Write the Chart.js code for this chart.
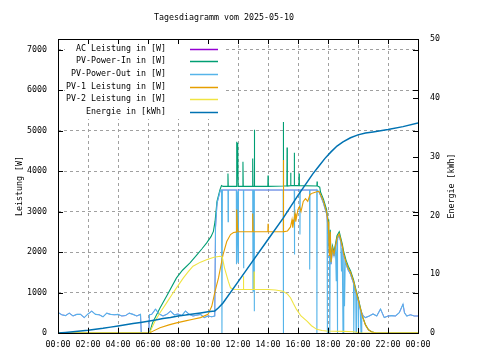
<!DOCTYPE html>
<html>
<head>
<meta charset="utf-8">
<script src="https://cdn.jsdelivr.net/npm/chart.js@4.4.1/dist/chart.umd.min.js"></script>
<style>
html, body { margin: 0; padding: 0; background: #fff; }
#wrap { width: 480px; height: 360px; }
</style>
</head>
<body>
<div id="wrap"><canvas id="tagesChart" width="480" height="360"></canvas></div>
<script>
// Werte: [Stunde, Wert]
const chartTitle = 'Tagesdiagramm vom 2025-05-10';
const seriesLabels = ['AC Leistung in [W]', 'PV-Power-In in [W]', 'PV-Power-Out in [W]',
    'PV-1 Leistung in [W]', 'PV-2 Leistung in [W]', 'Energie in [kWh]'];
const seriesColors = ['#9400d3', '#009e73', '#56b4e9', '#e69f00', '#f0e442', '#0072b2'];

const hourTicks = [0, 2, 4, 6, 8, 10, 12, 14, 16, 18, 20, 22, 24];
const wattTicks = [0, 1000, 2000, 3000, 4000, 5000, 6000, 7000];
const kwhTicks = [0, 10, 20, 30, 40, 50];

// AC-Leistung: liegt im Bild fast ueberall unter PV-Power-Out
const acPower = [
    [0, 510], [0.25, 450], [0.5, 430], [0.75, 490], [1, 420], [1.25, 460], [1.5, 460], [1.75, 380],
    [2, 470], [2.25, 540], [2.5, 460], [2.75, 450], [3, 400], [3.25, 490], [3.5, 460], [3.75, 450],
    [4, 460], [4.25, 420], [4.5, 430], [4.75, 490], [5, 460], [5.25, 420], [5.5, 460],
    [5.55, 0], [6.05, 0], [6.1, 450], [6.25, 460], [6.5, 590], [6.75, 470], [7, 420], [7.25, 460],
    [7.5, 540], [7.75, 450], [8, 470], [8.25, 430], [8.5, 540], [8.75, 460], [9, 420], [9.25, 440],
    [9.5, 460], [9.75, 380], [10, 420], [10.25, 400], [10.45, 420],
    [10.5, 2600], [10.6, 3200], [10.8, 3500], [10.9, 3530], [17.25, 3530],
    [17.4, 3480], [17.5, 3400], [17.7, 3200], [17.9, 2950], [17.97, 2700], [18.05, 2400], [18.1, 1900],
    [18.15, 2450], [18.2, 1700], [18.3, 2050], [18.4, 1900], [18.5, 2100], [18.6, 2300], [18.65, 2350],
    [18.75, 2400], [18.85, 2250], [18.95, 2100], [19.05, 1900], [19.15, 1800], [19.2, 1700], [19.35, 1550],
    [19.5, 1450], [19.7, 1230], [19.75, 1200], [19.85, 1000], [19.9, 950], [20.0, 800], [20.05, 780],
    [20.15, 580], [20.25, 500], [20.35, 420],
    [20.5, 380], [20.75, 420], [21, 470], [21.25, 420], [21.5, 590], [21.75, 380], [22, 420], [22.25, 430],
    [22.5, 420], [22.75, 500], [23, 710], [23.1, 500], [23.25, 420], [23.5, 450], [23.75, 420], [24, 420]
];

const pvIn = [
    [0, 0], [6.1, 0], [6.3, 250], [6.8, 615], [7.3, 950], [7.9, 1360], [8.3, 1550], [8.8, 1730],
    [9.3, 1950], [9.6, 2080], [9.9, 2220], [10.2, 2380], [10.36, 2510], [10.47, 2755], [10.6, 3250],
    [10.8, 3540], [10.9, 3640], [11.0, 3620],
    [11.32, 3620], [11.33, 3940], [11.35, 3620],
    [11.89, 3620], [11.9, 4720], [11.93, 3650], [11.98, 4700], [12.01, 3620],
    [12.32, 3620], [12.33, 4230], [12.35, 3620],
    [12.97, 3620], [12.98, 4310], [13.0, 3620], [13.08, 3620], [13.09, 5020], [13.11, 3620],
    [13.99, 3620], [14.0, 3890], [14.02, 3620],
    [15.01, 3630], [15.02, 5210], [15.04, 3630],
    [15.26, 3630], [15.27, 4580], [15.29, 3630],
    [15.5, 3640], [15.51, 3960], [15.53, 3640],
    [15.74, 3640], [15.75, 4450], [15.77, 3640],
    [16.06, 3640], [16.07, 3940], [16.09, 3640],
    [17.26, 3630], [17.27, 3740], [17.29, 3630],
    [17.45, 3600], [17.5, 3480], [17.7, 3300], [17.9, 3050], [18.0, 2800], [18.05, 2450], [18.1, 1950],
    [18.15, 2550], [18.2, 1800], [18.3, 2150], [18.4, 2000], [18.5, 2200], [18.6, 2400], [18.75, 2500],
    [18.85, 2350], [18.95, 2200], [19.05, 2000], [19.2, 1800], [19.35, 1650], [19.5, 1540], [19.7, 1320],
    [19.85, 1090], [20.0, 880], [20.15, 640], [20.3, 410], [20.5, 200], [20.7, 80], [20.9, 30],
    [21.2, 0], [24, 0]
];

const pvOut = [
    [0, 510], [0.25, 450], [0.5, 430], [0.75, 490], [1, 420], [1.25, 460], [1.5, 460], [1.75, 380],
    [2, 470], [2.25, 540], [2.5, 460], [2.75, 450], [3, 400], [3.25, 490], [3.5, 460], [3.75, 450],
    [4, 460], [4.25, 420], [4.5, 430], [4.75, 490], [5, 460], [5.25, 420], [5.5, 460],
    [5.55, 0], [6.05, 0], [6.1, 450], [6.25, 460], [6.5, 590], [6.75, 470], [7, 420], [7.25, 460],
    [7.5, 540], [7.75, 450], [8, 470], [8.25, 430], [8.5, 540], [8.75, 460], [9, 420], [9.25, 440],
    [9.5, 460], [9.75, 380], [10, 420], [10.25, 400], [10.45, 420],
    [10.5, 2600], [10.6, 3200], [10.8, 3500], [10.9, 3530], [10.93, 0], [10.96, 3530],
    [11.33, 3530], [11.34, 2750], [11.36, 3530],
    [11.89, 3530], [11.9, 1700], [11.95, 3500], [12.0, 1750], [12.03, 3530],
    [12.36, 3530], [12.37, 1600], [12.39, 3530],
    [12.98, 3530], [13.0, 1030], [13.02, 3530],
    [13.07, 3530], [13.08, 540], [13.1, 3530],
    [15.01, 3530], [15.02, 0], [15.04, 3530],
    [15.75, 3530], [15.76, 1940], [15.78, 3530],
    [16.12, 3530], [16.13, 2430], [16.15, 3530],
    [16.77, 3530], [16.78, 1570], [16.8, 3530],
    [17.25, 3530], [17.26, 0], [17.28, 3530],
    [17.4, 3480], [17.5, 3400], [17.7, 3200], [17.9, 2950], [17.94, 2900], [17.95, 0], [17.97, 2700],
    [18.05, 2400], [18.1, 1900], [18.12, 0], [18.15, 2450], [18.2, 1700], [18.3, 2050], [18.4, 1900],
    [18.5, 2100], [18.55, 1280], [18.6, 2300], [18.62, 0], [18.65, 2350], [18.75, 2400], [18.85, 2250],
    [18.9, 1520], [18.95, 2100], [19.0, 0], [19.05, 1900], [19.1, 660], [19.15, 1800], [19.2, 1700],
    [19.35, 1550], [19.5, 1450], [19.7, 1230], [19.72, 0], [19.75, 1200], [19.85, 1000], [19.87, 0],
    [19.9, 950], [20.0, 800], [20.02, 0], [20.05, 780], [20.15, 580], [20.2, 0], [20.25, 500], [20.35, 420],
    [20.5, 380], [20.75, 420], [21, 470], [21.25, 420], [21.5, 590], [21.75, 380], [22, 420], [22.25, 430],
    [22.5, 420], [22.75, 500], [23, 710], [23.1, 500], [23.25, 420], [23.5, 450], [23.75, 420], [24, 420]
];

const pv1 = [
    [0, 0], [6.1, 0], [6.3, 40], [6.8, 130], [7.4, 200], [7.9, 250], [8.5, 300], [9.0, 340], [9.5, 380],
    [10.0, 460], [10.25, 660], [10.47, 1030], [10.7, 1360], [11.0, 1930], [11.25, 2260], [11.5, 2430],
    [11.7, 2480], [11.87, 2490], [11.89, 2950], [11.93, 3050], [11.97, 2600], [12.0, 2500],
    [12.96, 2500], [12.98, 2950], [13.01, 2500], [13.99, 2500], [14.0, 2700], [14.02, 2500],
    [15.0, 2500], [15.02, 4270], [15.05, 2500], [15.3, 2520], [15.5, 2620], [15.6, 2800], [15.65, 2600],
    [15.8, 2950], [15.85, 2750], [16.0, 3050], [16.1, 3120], [16.2, 3000], [16.35, 3250], [16.5, 3320],
    [16.65, 3250], [16.8, 3420], [17.0, 3460], [17.25, 3490], [17.4, 3500], [17.5, 3420], [17.7, 3250],
    [17.9, 3000], [18.0, 2750], [18.05, 2400], [18.1, 1900], [18.15, 2500], [18.2, 1750], [18.3, 2100],
    [18.4, 1950], [18.5, 2150], [18.6, 2350], [18.75, 2450], [18.85, 2300], [18.95, 2150], [19.05, 1950],
    [19.2, 1750], [19.35, 1600], [19.5, 1500], [19.7, 1280], [19.85, 1050], [20.0, 850], [20.15, 620],
    [20.3, 400], [20.5, 200], [20.7, 80], [20.9, 30], [21.2, 0], [24, 0]
];

const pv2 = [
    [0, 0], [6.1, 0], [6.47, 295], [6.8, 500], [7.24, 745], [7.6, 950], [7.9, 1115], [8.36, 1360],
    [8.7, 1520], [9.0, 1650], [9.5, 1750], [9.9, 1810], [10.4, 1870], [10.8, 1895], [10.95, 1880],
    [11.1, 1610], [11.35, 1280], [11.5, 1115], [11.7, 1080], [12.35, 1075], [12.36, 1400], [12.38, 1075],
    [13.06, 1075], [13.07, 1520], [13.09, 1075], [14.0, 1075], [14.5, 1060], [15.0, 1030], [15.3, 960],
    [15.5, 870], [15.7, 720], [15.9, 583], [16.2, 420], [16.6, 295], [16.9, 180], [17.25, 90],
    [17.6, 60], [17.9, 50], [19.0, 40], [19.7, 30], [20.1, 8], [20.3, 0], [24, 0]
];

// Energie in kWh (rechte Achse)
const energy = [
    [0, 0], [0.5, 0.1], [1, 0.2], [1.5, 0.32], [2, 0.45], [2.5, 0.63], [3, 0.8], [3.5, 1.0], [4, 1.2],
    [4.5, 1.4], [5, 1.6], [5.5, 1.8], [6, 2.0], [6.5, 2.2], [7, 2.45], [7.5, 2.65], [8, 2.88], [8.5, 3.05],
    [9, 3.25], [9.5, 3.42], [10, 3.6], [10.45, 3.75], [10.7, 4.3], [11, 5.1], [12, 8.7], [13, 12.3],
    [14, 15.9], [15, 19.5], [16, 23.4], [17, 27.1], [17.4, 28.4], [17.8, 29.7], [18.2, 30.8], [18.6, 31.8],
    [19, 32.5], [19.5, 33.2], [20, 33.7], [20.5, 34.0], [21, 34.2], [22, 34.6], [23, 35.1], [24, 35.7]
];

const leftTitle = 'Leistung [W]';
const rightTitle = 'Energie [kWh]';

const MONO = '"DejaVu Sans Mono", "Liberation Mono", monospace';
const FONT_PX = 8.3;

Chart.defaults.font.family = MONO;
Chart.defaults.font.size = FONT_PX;
Chart.defaults.color = '#000';

function toPoints(rows) {
    return rows.map(r => ({ x: r[0], y: r[1] }));
}

function hourLabel(v) {
    return String(v % 24).padStart(2, '0') + ':00';
}

function fixedTicks(values) {
    return scale => { scale.ticks = values.map(v => ({ value: v })); };
}

// gnuplot-artiger Rahmen, Ticks nach innen, Legende und Titel
const gnuplotDecor = {
    id: 'gnuplotDecor',
    beforeDatasetsDraw(chart) {
        const ctx = chart.ctx;
        ctx.save();
        ctx.fillStyle = '#fff';
        ctx.fillRect(65, 40, 160, 79);
        ctx.restore();
    },
    afterDatasetsDraw(chart) {
        const { ctx, chartArea: a, scales } = chart;
        const font = FONT_PX + 'px ' + MONO;
        ctx.save();
        ctx.strokeStyle = '#000';
        ctx.lineWidth = 1;
        ctx.beginPath();
        scales.x.ticks.forEach(t => {
            const px = Math.round(scales.x.getPixelForValue(t.value)) + 0.5;
            ctx.moveTo(px, a.bottom); ctx.lineTo(px, a.bottom - 5);
            ctx.moveTo(px, a.top); ctx.lineTo(px, a.top + 5);
        });
        scales.y.ticks.forEach(t => {
            const py = Math.round(scales.y.getPixelForValue(t.value)) + 0.5;
            ctx.moveTo(a.left, py); ctx.lineTo(a.left + 5, py);
            ctx.moveTo(a.right, py); ctx.lineTo(a.right - 5, py);
        });
        scales.y2.ticks.forEach(t => {
            const py = Math.round(scales.y2.getPixelForValue(t.value)) + 0.5;
            ctx.moveTo(a.right, py); ctx.lineTo(a.right - 5, py);
        });
        ctx.stroke();
        ctx.strokeRect(Math.round(a.left) + 0.5, Math.round(a.top) + 0.5,
            Math.round(a.right - a.left), Math.round(a.bottom - a.top));

        // Legende
        ctx.font = font;
        ctx.fillStyle = '#000';
        ctx.textAlign = 'right';
        ctx.textBaseline = 'middle';
        chart.data.datasets.forEach((ds, i) => {
            const y = 48.5 + i * 12.7;
            ctx.fillText(ds.label, 166, y);
            ctx.strokeStyle = ds.borderColor;
            ctx.lineWidth = 1.5;
            ctx.beginPath();
            ctx.moveTo(190, Math.round(y) + 0.5);
            ctx.lineTo(218, Math.round(y) + 0.5);
            ctx.stroke();
        });

        // Titel
        ctx.textAlign = 'center';
        ctx.fillText(chartTitle, 224, 18);

        // Achsentitel
        const midY = (a.top + a.bottom) / 2;
        [[20, leftTitle], [452, rightTitle]].forEach(([x, txt]) => {
            ctx.save();
            ctx.translate(x, midY);
            ctx.rotate(-Math.PI / 2);
            ctx.fillText(txt, 0, 0);
            ctx.restore();
        });
        ctx.restore();
    }
};

const seriesRows = [acPower, pvIn, pvOut, pv1, pv2, energy];

new Chart(document.getElementById('tagesChart'), {
    type: 'line',
    data: {
        datasets: seriesRows.map((rows, i) => ({
            label: seriesLabels[i],
            data: toPoints(rows),
            borderColor: seriesColors[i],
            backgroundColor: seriesColors[i],
            borderWidth: i === 5 ? 1.5 : (i === 0 ? 0.6 : 1.1),
            yAxisID: i === 5 ? 'y2' : 'y',
            order: 6 - i,
            pointRadius: 0,
            tension: 0,
            fill: false
        }))
    },
    options: {
        responsive: false,
        animation: false,
        layout: { padding: { top: 39, left: 0, right: 0, bottom: 0 } },
        plugins: {
            legend: { display: false },
            title: { display: false },
            tooltip: { enabled: false }
        },
        scales: {
            x: {
                type: 'linear',
                min: 0,
                max: 24,
                afterFit: s => { s.height = 27; },
                afterBuildTicks: fixedTicks(hourTicks),
                ticks: { autoSkip: false, maxRotation: 0, padding: 7, callback: hourLabel },
                grid: { color: '#a0a0a0', drawTicks: false },
                border: { display: false, dash: [3, 3] }
            },
            y: {
                position: 'left',
                min: 0,
                max: 7260,
                afterFit: s => { s.width = 58; },
                afterBuildTicks: fixedTicks(wattTicks),
                ticks: { padding: 11, callback: v => String(v) },
                grid: { color: '#a0a0a0', drawTicks: false },
                border: { display: false, dash: [3, 3] }
            },
            y2: {
                position: 'right',
                min: 0,
                max: 50,
                afterFit: s => { s.width = 62; },
                afterBuildTicks: fixedTicks(kwhTicks),
                ticks: { padding: 12, callback: v => String(v) },
                grid: { drawOnChartArea: false, drawTicks: false },
                border: { display: false }
            }
        }
    },
    plugins: [gnuplotDecor]
});
</script>
</body>
</html>
